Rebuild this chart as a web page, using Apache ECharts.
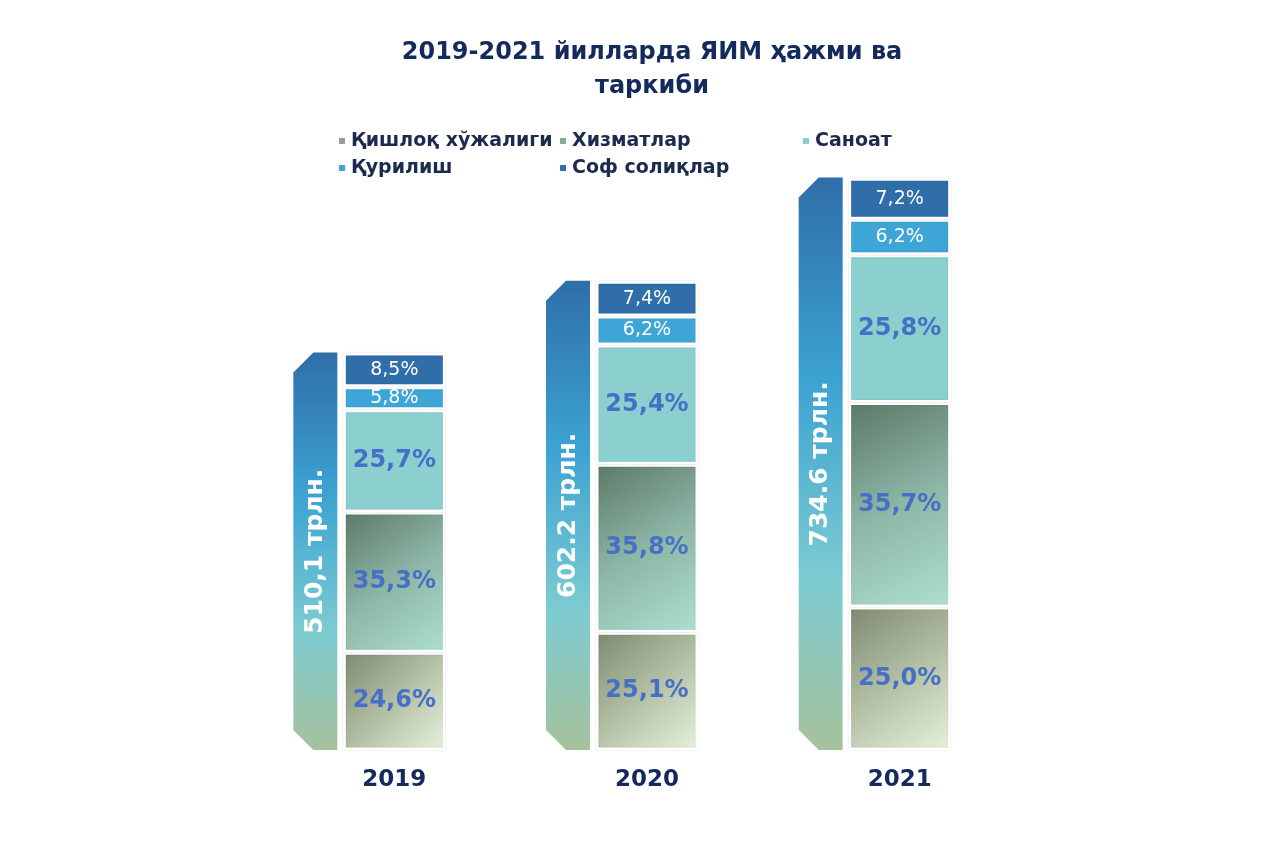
<!DOCTYPE html>
<html><head><meta charset="utf-8">
<script src="https://cdn.jsdelivr.net/npm/echarts@6/dist/echarts.min.js"></script>
<style>html,body{margin:0;padding:0;background:#fff}#main{width:1280px;height:853px}</style>
</head><body><div id="main"></div>
<script>
const years = ['2019', '2020', '2021'];
const totals = [510.1, 602.2, 734.6];
const totalLabels = ['510,1 трлн.', '602.2 трлн.', '734.6 трлн.'];
const agriculture = [24.6, 25.1, 25.0];
const services = [35.3, 35.8, 35.7];
const industry = [25.7, 25.4, 25.8];
const construction = [5.8, 6.2, 6.2];
const netTaxes = [8.5, 7.4, 7.2];
const seriesNames = ['Қишлоқ хўжалиги', 'Хизматлар', 'Саноат', 'Қурилиш', 'Соф солиқлар'];

const FONT = 'DejaVu Sans';
const NAVY = '#14295c';

function grad(stops) {
  return { type: 'linear', x: 0, y: 0, x2: 1, y2: 1,
    colorStops: stops.map((c, i) => ({ offset: i / (stops.length - 1), color: c })) };
}
const segColors = [
  grad(['#7d8872', '#b3bfa4', '#e6f1dd']),
  grad(['#5b7868', '#8db6a6', '#ade0cf']),
  '#8bcfcf',
  '#3ea6d6',
  '#2f6ea9'
];
const legendColors = ['#9a9d8b', '#8aa898', '#8bcfcf', '#3ea6d6', '#2f6ea9'];

function seg(idx, pcts, big) {
  return {
    name: seriesNames[idx],
    type: 'bar',
    stack: 'gdp',
    barWidth: 102,
    data: pcts.map((p, i) => +(totals[i] * p / 100).toFixed(3)),
    itemStyle: { color: segColors[idx], borderColor: '#ffffff', borderWidth: 2.5,
      shadowColor: 'rgba(0,0,0,0.12)', shadowBlur: 2 },
    label: {
      show: true, position: 'inside',
      formatter: p => pcts[p.dataIndex].toFixed(1).replace('.', ',') + '%',
      fontFamily: FONT,
      fontSize: big ? 24 : 19,
      fontWeight: big ? 'bold' : 'normal',
      color: big ? '#4670c6' : '#ffffff'
    },
    emphasis: { disabled: true }
  };
}

const tapeFill = { type: 'linear', x: 0, y: 0, x2: 0, y2: 1,
  colorStops: [
    { offset: 0, color: '#2f6ea9' },
    { offset: 0.35, color: '#3ba2d2' },
    { offset: 0.7, color: '#7ccbd1' },
    { offset: 1, color: '#a6c29c' }
  ] };

const legendText = { fontFamily: FONT, fontWeight: 'bold', fontSize: 19, color: '#1b2a4e', lineHeight: 20 };
function leg(left, idxs) {
  return {
    left: left, top: 126, orient: 'vertical', itemGap: 7, itemWidth: 8, itemHeight: 8,
    icon: 'rect', selectedMode: false, textStyle: legendText,
    data: idxs.map(i => ({ name: seriesNames[i], itemStyle: { color: legendColors[i] } }))
  };
}

const chart = echarts.init(document.getElementById('main'), null, { renderer: 'canvas' });
chart.setOption({
  backgroundColor: '#ffffff',
  animation: false,
  title: {
    text: '2019-2021 йилларда ЯИМ ҳажми ва\nтаркиби',
    left: 647, textAlign: 'center', top: 31,
    textStyle: { fontFamily: FONT, fontWeight: 'bold', fontSize: 24, lineHeight: 34, color: NAVY }
  },
  legend: [leg(332, [0, 3]), leg(553, [1, 4]), leg(796, [2])],
  grid: { left: 268, right: 254, top: 150, bottom: 103 },
  xAxis: {
    type: 'category', data: years,
    axisLine: { show: false }, axisTick: { show: false },
    axisLabel: { margin: 19, fontFamily: FONT, fontWeight: 'bold', fontSize: 23, color: NAVY }
  },
  yAxis: { type: 'value', min: 0, max: 770, show: false, splitLine: { show: false } },
  series: [
    seg(0, agriculture, true),
    seg(1, services, true),
    seg(2, industry, true),
    seg(3, construction, false),
    seg(4, netTaxes, false),
    {
      name: 'total', type: 'custom', silent: true,
      data: totals.map((v, i) => [i, v]),
      encode: { x: 0, y: 1 },
      renderItem: function (params, api) {
        const top = api.coord([api.value(0), api.value(1)]);
        const base = api.coord([api.value(0), 0]);
        const cx = top[0] - 79, half = 22, c = 20;
        const l = cx - half, r = cx + half, t = top[1], b = base[1];
        return {
          type: 'group',
          children: [
            { type: 'polygon',
              shape: { points: [[l + c, t], [r, t], [r, b], [l + c, b], [l, b - c], [l, t + c]] },
              style: { fill: tapeFill } },
            { type: 'text', x: cx, y: (t + b) / 2, rotation: Math.PI / 2,
              style: { text: totalLabels[params.dataIndex], fill: '#ffffff',
                font: 'bold 25px "' + FONT + '"', align: 'center', verticalAlign: 'middle' } }
          ]
        };
      }
    }
  ]
});
</script>
</body></html>
